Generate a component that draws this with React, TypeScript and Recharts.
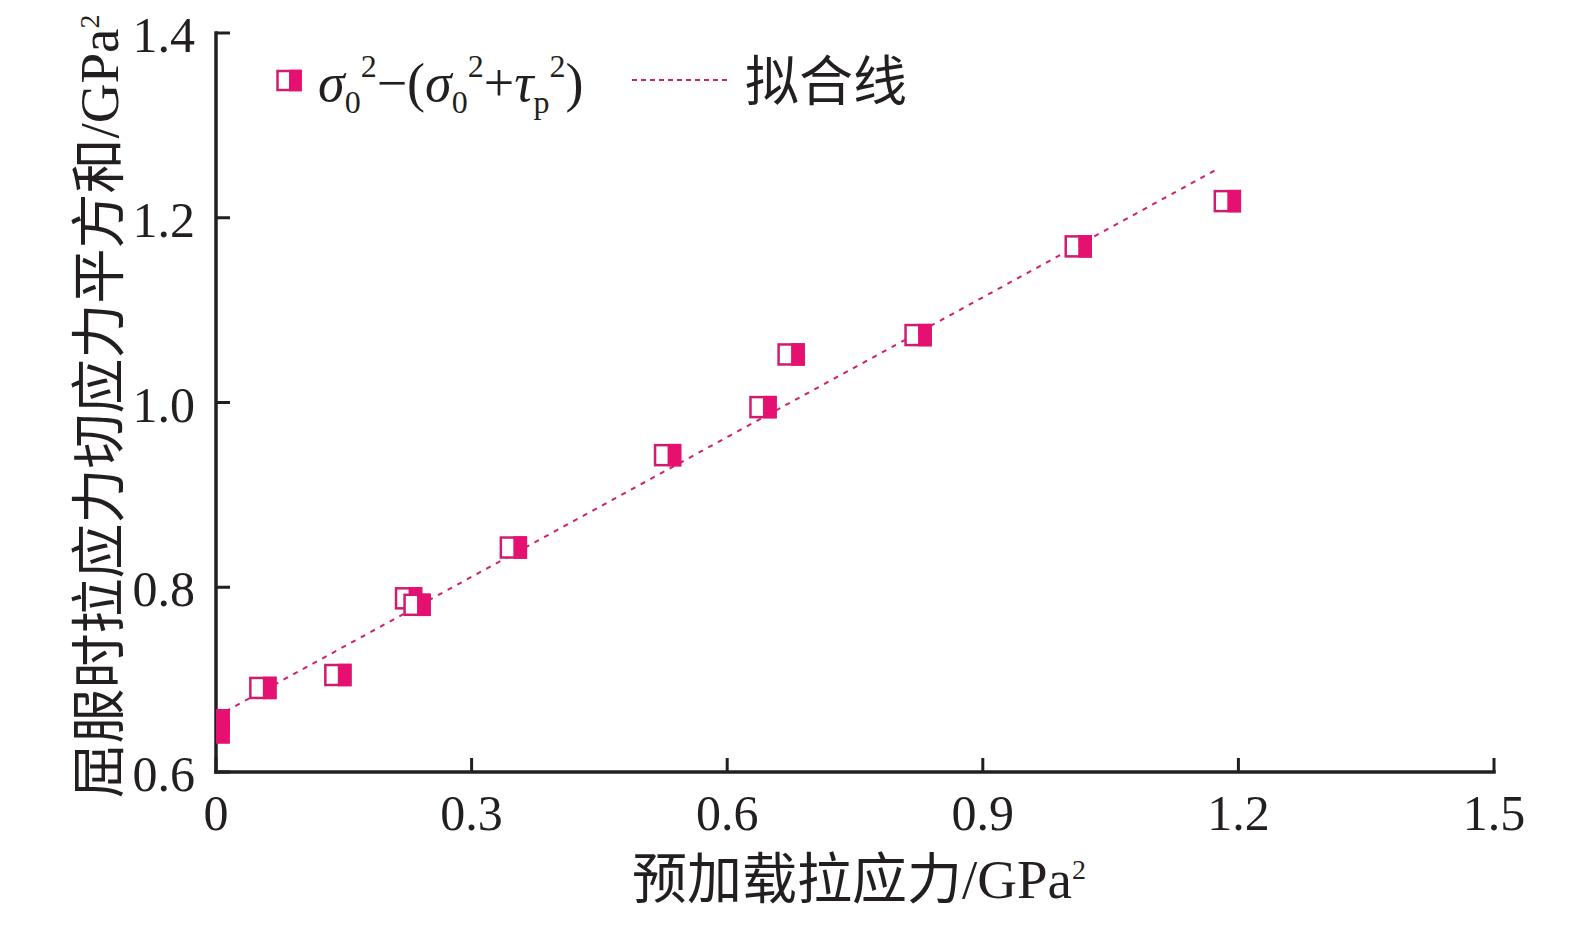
import React from 'react';
import { ComposedChart, Scatter, Line, XAxis, YAxis, Legend } from 'recharts';

// ---- data ----
const xValues = [0, 0, 0.055, 0.143, 0.226, 0.236, 0.349, 0.53, 0.642, 0.675, 0.824, 1.012, 1.187];
const yValues = [0.656, 0.643, 0.691, 0.705, 0.788, 0.781, 0.843, 0.943, 0.995, 1.052, 1.073, 1.169, 1.218];
const fitX = [0, 1.176];
const fitY = [0.66, 1.253];
const xTicks = [0, 0.3, 0.6, 0.9, 1.2, 1.5];
const xTickLabels = ['0', '0.3', '0.6', '0.9', '1.2', '1.5'];
const yTicks = [0.6, 0.8, 1.0, 1.2, 1.4];
const yTickLabels = ['0.6', '0.8', '1.0', '1.2', '1.4'];
const xTitle = '预加载拉应力/GPa';
const yTitle = '屈服时拉应力切应力平方和/GPa';
const titleSup = '2';
const fitName = '拟合线';

const pointData = xValues.map((x, i) => ({ x, y: yValues[i] }));
const fitData = fitX.map((x, i) => ({ x, y: fitY[i] }));

const PINK = '#E5106F';
const EDGE = '#D01C70';
const LINE_PINK = '#CF2070';
const INK = '#231F20';
const SERIF = '"Liberation Serif", "Times New Roman", "Noto Sans CJK SC", serif';

const HalfSquare = (props: any) => {
  const { cx, cy } = props;
  if (cx == null || cy == null) return null;
  const w = 25;
  const h = 20;
  return (
    <g>
      <rect x={cx - w / 2} y={cy - h / 2} width={w} height={h} fill="#fff" stroke={EDGE} strokeWidth={2.5} />
      <rect x={cx} y={cy - h / 2 - 1.25} width={w / 2 + 1.25} height={h + 2.5} fill={PINK} />
    </g>
  );
};

const findLabel = (ticks: number[], labels: string[], v: number) => {
  const i = ticks.findIndex((t) => Math.abs(t - v) < 1e-9);
  return i >= 0 ? labels[i] : String(v);
};

const XTick = (props: any) => {
  const { x, y, payload } = props;
  return (
    <g>
      <line x1={x} y1={y} x2={x} y2={y - 14} stroke={INK} strokeWidth={3} />
      <text x={x} y={y + 58} textAnchor="middle" fontFamily={SERIF} fontSize={50} fill={INK}>
        {findLabel(xTicks, xTickLabels, payload.value)}
      </text>
    </g>
  );
};

const YTick = (props: any) => {
  const { x, y, payload } = props;
  return (
    <g>
      <line x1={x} y1={y} x2={x + 14} y2={y} stroke={INK} strokeWidth={3} />
      <text x={x - 21} y={y + 19} textAnchor="end" fontFamily={SERIF} fontSize={50} fill={INK}>
        {findLabel(yTicks, yTickLabels, payload.value)}
      </text>
    </g>
  );
};

const XTitle = (props: any) => {
  const vb = props.viewBox ?? { x: 208, y: 764, width: 1278, height: 120 };
  const cx = vb.x + vb.width / 2 + 4;
  const by = vb.y + 126;
  return (
    <text x={cx} y={by} textAnchor="middle" fontFamily={SERIF} fontSize={55} fill={INK}>
      {xTitle}
      <tspan fontSize={28} dy={-19}>{titleSup}</tspan>
    </text>
  );
};

const YTitle = (props: any) => {
  const vb = props.viewBox ?? { x: 108, y: 25, width: 100, height: 739 };
  const bx = vb.x + 2;
  const cy = vb.y + vb.height / 2 + 4;
  return (
    <text
      x={bx}
      y={cy}
      transform={`rotate(-90, ${bx}, ${cy})`}
      textAnchor="middle"
      fontFamily={SERIF}
      fontSize={55}
      fill={INK}
    >
      {yTitle}
      <tspan fontSize={28} dy={-19}>{titleSup}</tspan>
    </text>
  );
};

const LegendContent = () => (
  <svg width={680} height={90} style={{ display: 'block', overflow: 'visible' }}>
    <rect x={9.5} y={28} width={23} height={19} fill="#fff" stroke={EDGE} strokeWidth={2.5} />
    <rect x={21} y={26.75} width={12.75} height={21.5} fill={PINK} />
    <text x={50} y={58} fontFamily={SERIF} fontSize={54} fill={INK}>
      <tspan fontStyle="italic">σ</tspan>
      <tspan fontSize={32} dy={12}>0</tspan>
      <tspan fontSize={32} dy={-36}>2</tspan>
      <tspan dy={24}>−(</tspan>
      <tspan fontStyle="italic">σ</tspan>
      <tspan fontSize={32} dy={12}>0</tspan>
      <tspan fontSize={32} dy={-36}>2</tspan>
      <tspan dy={24}>+</tspan>
      <tspan fontStyle="italic">τ</tspan>
      <tspan fontSize={32} dy={12}>p</tspan>
      <tspan fontSize={32} dy={-36}>2</tspan>
      <tspan dy={24}>)</tspan>
    </text>
    <line x1={364} y1={37} x2={459} y2={37} stroke={LINE_PINK} strokeWidth={2} strokeDasharray="5 4" />
    <text x={477} y={58} fontFamily={SERIF} fontSize={54} fill={INK}>
      {fitName}
    </text>
  </svg>
);

export default function App() {
  return (
    <div style={{ width: 1560, height: 910 }}>
      <ComposedChart
        width={1560}
        height={910}
        margin={{ top: 25, right: 74, bottom: 26, left: 108 }}
      >
        <XAxis
          type="number"
          dataKey="x"
          domain={[0, 1.5]}
          ticks={xTicks}
          interval={0}
          allowDataOverflow
          height={120}
          tickSize={0}
          tickMargin={0}
          tickLine={false}
          tick={<XTick />}
          axisLine={{ stroke: INK, strokeWidth: 3.5, strokeLinecap: 'square' }}
          label={<XTitle />}
        />
        <YAxis
          type="number"
          dataKey="y"
          domain={[0.6, 1.4]}
          ticks={yTicks}
          interval={0}
          allowDataOverflow
          width={100}
          tickSize={0}
          tickMargin={0}
          tickLine={false}
          tick={<YTick />}
          axisLine={{ stroke: INK, strokeWidth: 3.5, strokeLinecap: 'square' }}
          label={<YTitle />}
        />
        <Legend
          layout="vertical"
          align="center"
          verticalAlign="middle"
          content={<LegendContent />}
          wrapperStyle={{ left: 260, top: 35, width: 680, height: 90 }}
        />
        <Line
          data={fitData}
          dataKey="y"
          name={fitName}
          stroke={LINE_PINK}
          strokeWidth={2}
          strokeDasharray="5 6"
          dot={false}
          activeDot={false}
          isAnimationActive={false}
        />
        <Scatter
          data={pointData}
          dataKey="y"
          name="σ0²−(σ0²+τp²)"
          shape={<HalfSquare />}
          isAnimationActive={false}
        />
      </ComposedChart>
    </div>
  );
}
